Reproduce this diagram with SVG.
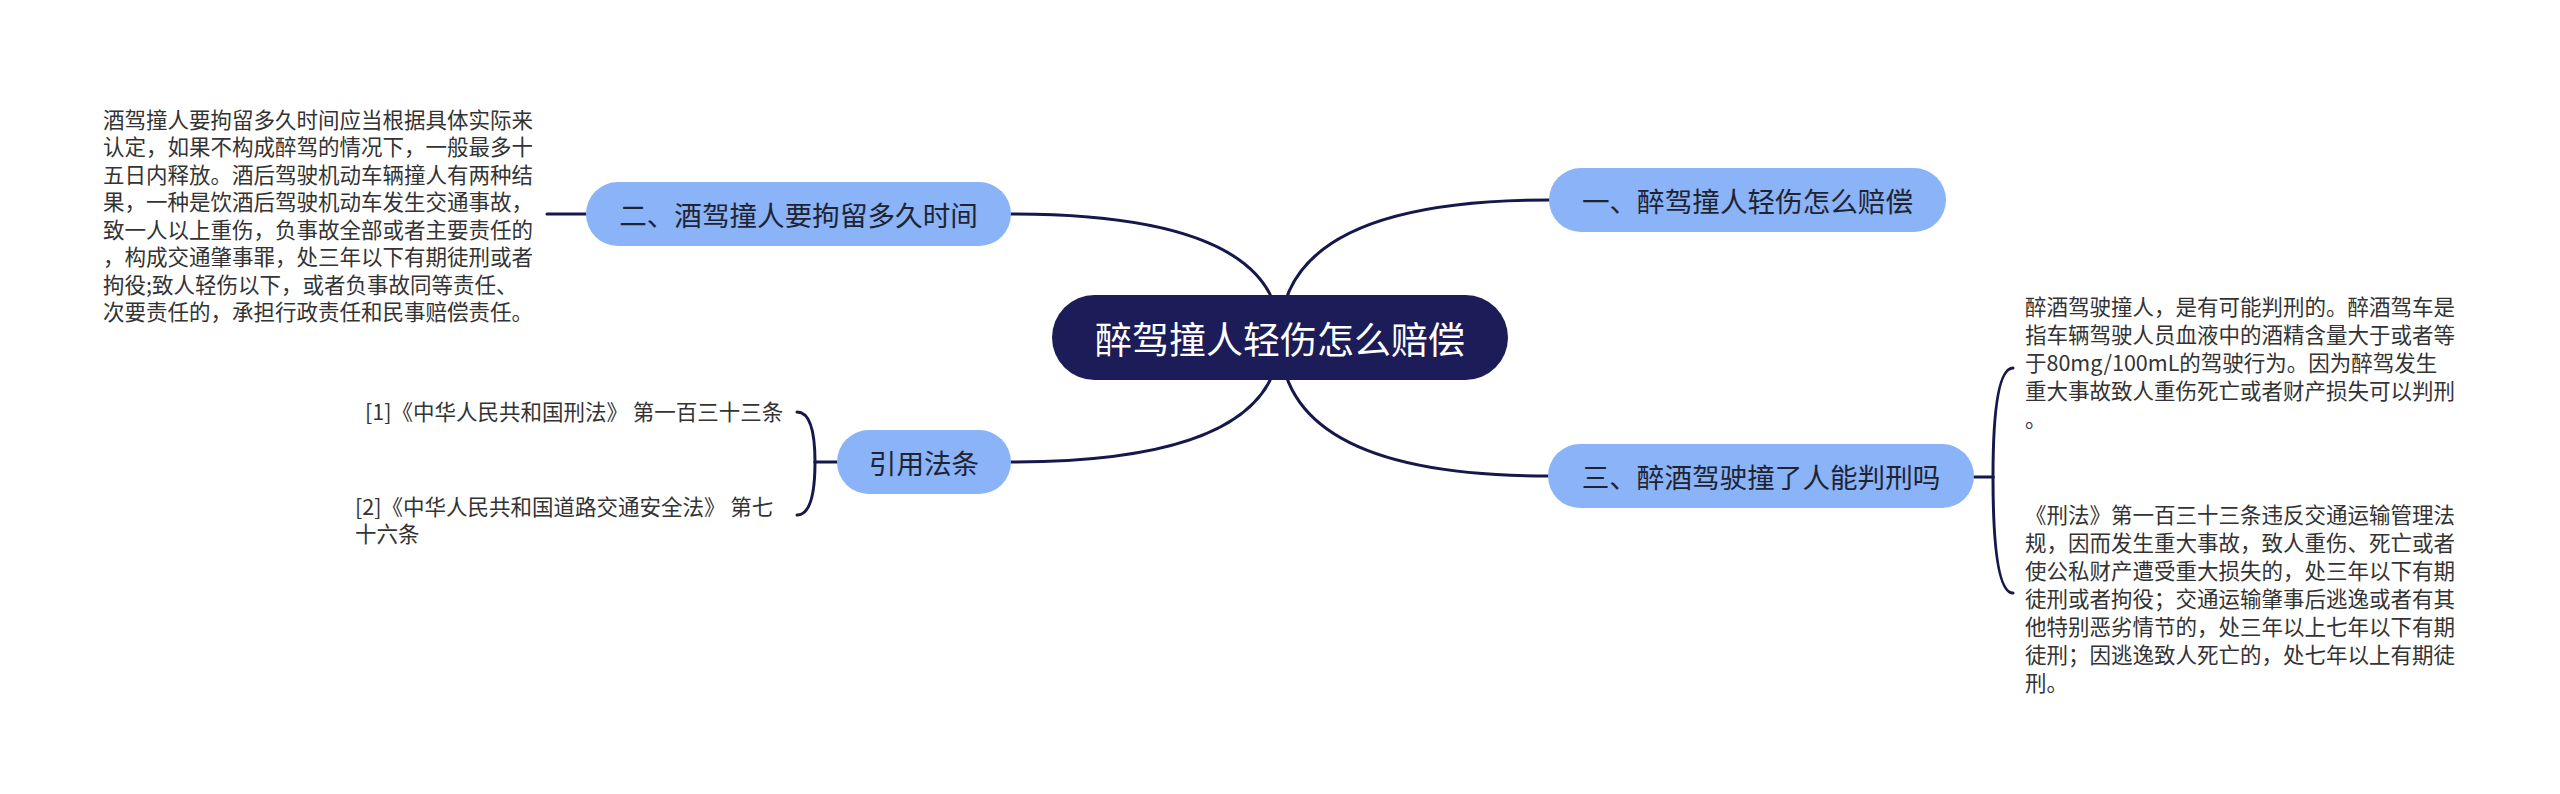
<svg xmlns="http://www.w3.org/2000/svg" width="2560" height="794" viewBox="0 0 2560 794">
<style>
.link{fill:none;stroke:#16174a;stroke-width:3;stroke-linecap:round}
.sub{fill:#8ab3f8}
.subt{font-family:"Noto Sans CJK SC","Noto Sans",sans-serif;font-size:27.6px;fill:#1f2433;text-anchor:middle;dominant-baseline:central}
.root{fill:#1c1c58}
.roott{font-family:"Noto Sans CJK SC","Noto Sans",sans-serif;font-size:37px;fill:#ffffff;text-anchor:middle;dominant-baseline:central}
.det{font-family:"Noto Sans CJK SC","Noto Sans",sans-serif;font-size:21.5px;fill:#333333;dominant-baseline:central}
</style>
<rect width="2560" height="794" fill="#ffffff"/>
<g id="connectors">
<path class="link" d="M1280,337 Q1280,200 1549,200"/>
<path class="link" d="M1280,337 Q1280,214 1011,214"/>
<path class="link" d="M1280,337 Q1280,476 1548,476"/>
<path class="link" d="M1280,337 Q1280,462 1011,462"/>
<path class="link" d="M586,214 L547,214"/>
<path class="link" d="M837,462 L815,462"/>
<path class="link" d="M815,462 Q815,412 797,412"/>
<path class="link" d="M815,462 Q815,515 797,515"/>
<path class="link" d="M1974,477 L1993,477"/>
<path class="link" d="M1993,477 Q1993,368 2013,368"/>
<path class="link" d="M1993,477 Q1993,593 2013,593"/>
</g>
<g id="root">
<rect class="root" x="1052" y="295" width="456" height="85" rx="42.5"/>
<text class="roott" x="1280" y="337.5">醉驾撞人轻伤怎么赔偿</text>
</g>
<g id="n1">
<rect class="sub" x="1549" y="168" width="397" height="64" rx="32"/>
<text class="subt" x="1747.5" y="200">一、醉驾撞人轻伤怎么赔偿</text>
</g>
<g id="n2">
<rect class="sub" x="586" y="182" width="425" height="64" rx="32"/>
<text class="subt" x="798.5" y="214">二、酒驾撞人要拘留多久时间</text>
</g>
<g id="n3">
<rect class="sub" x="1548" y="444" width="426" height="64" rx="32"/>
<text class="subt" x="1761" y="476">三、醉酒驾驶撞了人能判刑吗</text>
</g>
<g id="n4">
<rect class="sub" x="837" y="430" width="174" height="64" rx="32"/>
<text class="subt" x="924" y="462">引用法条</text>
</g>
<g id="n2-detail">
<text class="det" x="103">
<tspan x="103" y="117.5">酒驾撞人要拘留多久时间应当根据具体实际来</tspan>
<tspan x="103" y="145">认定，如果不构成醉驾的情况下，一般最多十</tspan>
<tspan x="103" y="172.5">五日内释放。酒后驾驶机动车辆撞人有两种结</tspan>
<tspan x="103" y="200">果，一种是饮酒后驾驶机动车发生交通事故，</tspan>
<tspan x="103" y="227.5">致一人以上重伤，负事故全部或者主要责任的</tspan>
<tspan x="103" y="255">，构成交通肇事罪，处三年以下有期徒刑或者</tspan>
<tspan x="103" y="282.5">拘役;致人轻伤以下，或者负事故同等责任、</tspan>
<tspan x="103" y="310">次要责任的，承担行政责任和民事赔偿责任。</tspan>
</text>
</g>
<g id="ref1">
<text class="det" x="365" y="410">[1]《中华人民共和国刑法》 第一百三十三条</text>
</g>
<g id="ref2">
<text class="det">
<tspan x="355" y="505">[2]《中华人民共和国道路交通安全法》 第七</tspan>
<tspan x="355" y="532">十六条</tspan>
</text>
</g>
<g id="n3-detail1">
<text class="det">
<tspan x="2025" y="305">醉酒驾驶撞人，是有可能判刑的。醉酒驾车是</tspan>
<tspan x="2025" y="333">指车辆驾驶人员血液中的酒精含量大于或者等</tspan>
<tspan x="2025" y="361">于80mg/100mL的驾驶行为。因为醉驾发生</tspan>
<tspan x="2025" y="389">重大事故致人重伤死亡或者财产损失可以判刑</tspan>
<tspan x="2025" y="417">。</tspan>
</text>
</g>
<g id="n3-detail2">
<text class="det">
<tspan x="2025" y="513">《刑法》第一百三十三条违反交通运输管理法</tspan>
<tspan x="2025" y="541">规，因而发生重大事故，致人重伤、死亡或者</tspan>
<tspan x="2025" y="569">使公私财产遭受重大损失的，处三年以下有期</tspan>
<tspan x="2025" y="597">徒刑或者拘役；交通运输肇事后逃逸或者有其</tspan>
<tspan x="2025" y="625">他特别恶劣情节的，处三年以上七年以下有期</tspan>
<tspan x="2025" y="653">徒刑；因逃逸致人死亡的，处七年以上有期徒</tspan>
<tspan x="2025" y="681">刑。</tspan>
</text>
</g>
</svg>
